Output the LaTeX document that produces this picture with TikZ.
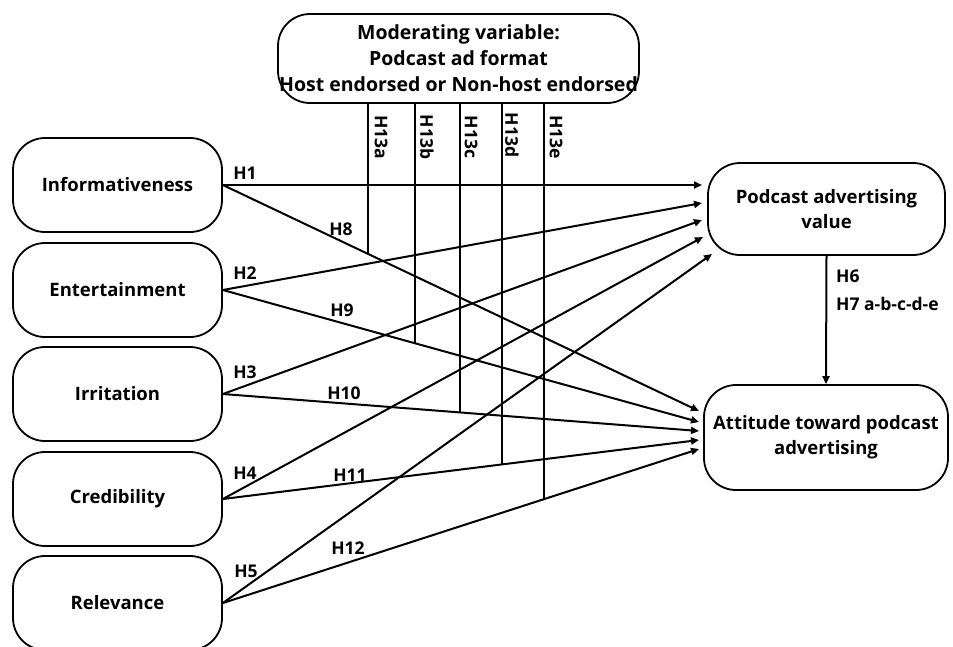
\documentclass[tikz,border=0pt]{standalone}
\usepackage{fontspec}
\setmainfont{Open Sans}
\usetikzlibrary{arrows.meta}
\begin{document}
\begin{tikzpicture}[x=1pt,y=-1pt,
  box/.style={draw=black,line width=1.8pt,rounded corners=32pt,align=center,inner sep=0pt,font=\fontsize{18.5}{25}\selectfont\bfseries},
  lbl/.style={font=\fontsize{17.5}{20}\selectfont\bfseries,inner sep=0pt},
  conn/.style={line width=2pt},
  arr/.style={line width=2pt,-{Triangle[length=8pt,width=7pt]}}]
\useasboundingbox (0,0) rectangle (953,646);
% boxes
\node[box,minimum width=361pt,minimum height=89pt,font=\fontsize{19.5}{26}\selectfont\bfseries] (mod) at (458.5,58.5) {Moderating variable:\\Podcast ad format\\Host endorsed or Non-host endorsed};
\node[box,minimum width=209pt,minimum height=94pt] (inf) at (117.5,185) {Informativeness};
\node[box,minimum width=209pt,minimum height=94pt] (ent) at (117.5,290) {Entertainment};
\node[box,minimum width=209pt,minimum height=94pt] (irr) at (117.5,394) {Irritation};
\node[box,minimum width=209pt,minimum height=94pt] (cred) at (117.5,499) {Credibility};
\node[box,minimum width=209pt,minimum height=94pt] (rel) at (117.5,603) {Relevance};
\node[box,minimum width=237pt,minimum height=92pt] (pav) at (826.5,209) {Podcast advertising\\value};
\node[box,minimum width=244pt,minimum height=105pt] (att) at (826,437.5) {Attitude toward podcast\\advertising};
% arrow end points
\coordinate (p1) at (702,185);
\coordinate (p2) at (702,203);
\coordinate (p3) at (702,220);
\coordinate (p4) at (703,237);
\coordinate (p5) at (712,254);
\coordinate (a1) at (699,411);
\coordinate (a2) at (699,422);
\coordinate (a3) at (699,431);
\coordinate (a4) at (699,440);
\coordinate (a5) at (699,449);
% to PAV
\draw[arr] (inf.east) -- (p1);
\draw[arr] (ent.east) -- (p2);
\draw[arr] (irr.east) -- (p3);
\draw[arr] (cred.east) -- (p4);
\draw[arr] (rel.east) -- (p5);
% to ATT
\draw[arr] (inf.east) -- coordinate[pos=0.304] (x8) (a1);
\draw[arr] (ent.east) -- coordinate[pos=0.4025] (x9) (a2);
\draw[arr] (irr.east) -- coordinate[pos=0.497] (x10) (a3);
\draw[arr] (cred.east) -- coordinate[pos=0.587] (x11) (a4);
\draw[arr] (rel.east) -- coordinate[pos=0.675] (x12) (a5);
% PAV -> ATT
\draw[arr] (pav.south) -- (att.north);
% moderating lines
\draw[conn] (mod.south -| x8) -- (x8);
\draw[conn] (mod.south -| x9) -- (x9);
\draw[conn] (mod.south -| x10) -- (x10);
\draw[conn] (mod.south -| x11) -- (x11);
\draw[conn] (mod.south -| x12) -- (x12);
% labels
\node[lbl] (h1) at (245,173) {H1};
\node[lbl] (h2) at (245,273) {H2};
\node[lbl] (h3) at (245,372) {H3};
\node[lbl] (h4) at (245,473) {H4};
\node[lbl] (h5) at (246,571) {H5};
\node[lbl] (h8) at (341,229) {H8};
\node[lbl] (h9) at (342,310) {H9};
\node[lbl] (h10) at (344,393) {H10};
\node[lbl] (h11) at (350,475) {H11};
\node[lbl] (h12) at (348,548) {H12};
\node[lbl,anchor=west] (h6) at (836,276) {H6};
\node[lbl,anchor=west] (h7) at (836,304) {H7 a-b-c-d-e};
\node[lbl,rotate=-90] (h13a) at (381,137) {H13a};
\node[lbl,rotate=-90] (h13b) at (427,137) {H13b};
\node[lbl,rotate=-90] (h13c) at (471,137) {H13c};
\node[lbl,rotate=-90] (h13d) at (512,135) {H13d};
\node[lbl,rotate=-90] (h13e) at (556,137) {H13e};
\end{tikzpicture}
\end{document}
